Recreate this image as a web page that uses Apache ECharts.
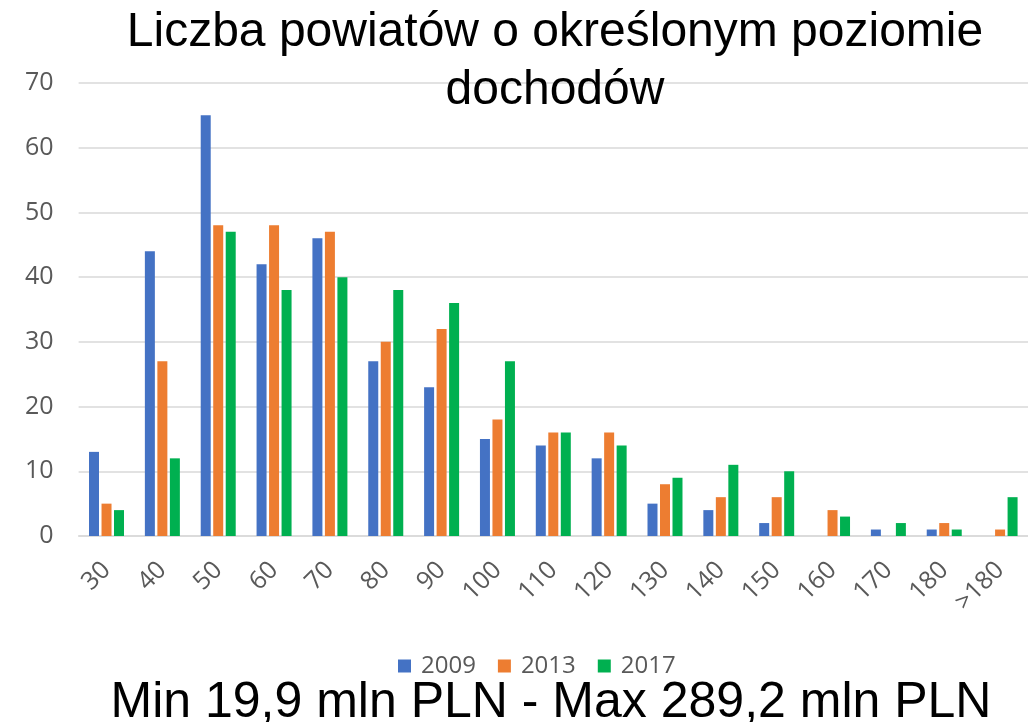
<!DOCTYPE html>
<html>
<head>
<meta charset="utf-8">
<script src="https://cdn.jsdelivr.net/npm/echarts@6/dist/echarts.min.js"></script>
<style>
  html, body { margin: 0; padding: 0; background: #fff; overflow: hidden; }
  #chart { width: 1028px; height: 722px; }
</style>
</head>
<body>
<div id="chart"></div>
<script>
// przedziały dochodów (mln PLN)
var categories = ['30', '40', '50', '60', '70', '80', '90', '100', '110', '120', '130', '140', '150', '160', '170', '180', '>180']
var years = ['2009', '2013', '2017']
var values2009 = [13, 44, 65, 42, 46, 27, 23, 15, 14, 12, 5, 4, 2, 0, 1, 1, 0]
var values2013 = [5, 27, 48, 48, 47, 30, 32, 18, 16, 16, 8, 6, 6, 4, 0, 2, 1]
var values2017 = [4, 12, 47, 38, 40, 38, 36, 27, 16, 14, 9, 11, 10, 3, 2, 1, 6]
var yTicks = [0, 10, 20, 30, 40, 50, 60, 70]

var colors = ['#4472C4', '#ED7D31', '#00B050']
var seriesValues = [values2009, values2013, values2017]
var labelFont = '"Open Sans", sans-serif'

var chart = echarts.init(document.getElementById('chart'))
chart.setOption({
  animation: false,
  color: colors,
  title: [{
    text: 'Liczba powiatów o określonym poziomie\ndochodów',
    left: 550,
    top: -1,
    textAlign: 'center',
    textStyle: {
      fontFamily: '"Liberation Sans", Arial, sans-serif',
      fontSize: 48,
      fontWeight: 'normal',
      color: '#000',
      lineHeight: 58
    }
  }, {
    text: 'Min 19,9 mln PLN - Max 289,2 mln PLN',
    left: 546,
    top: 673,
    textAlign: 'center',
    textStyle: {
      fontFamily: '"Liberation Sans", Arial, sans-serif',
      fontSize: 50,
      fontWeight: 'normal',
      color: '#000',
      lineHeight: 50
    }
  }],
  legend: {
    data: years,
    left: 393,
    top: 649,
    itemWidth: 13,
    itemHeight: 13,
    itemGap: 22,
    icon: 'rect',
    textStyle: {
      fontFamily: labelFont,
      fontSize: 24,
      color: '#595959',
      padding: [0, 0, 0, 5]
    }
  },
  grid: {
    left: 78.6,
    right: -16,
    top: 83,
    bottom: 186
  },
  xAxis: {
    type: 'category',
    data: categories,
    axisTick: { show: false },
    axisLine: { lineStyle: { color: '#d9d9d9', width: 1.5 } },
    axisLabel: {
      rotate: 45,
      interval: 0,
      margin: 30,
      fontFamily: labelFont,
      fontSize: 25,
      color: '#595959'
    }
  },
  yAxis: {
    type: 'value',
    min: yTicks[0],
    max: yTicks[yTicks.length - 1],
    interval: 10,
    axisLine: { show: false },
    axisTick: { show: false },
    axisLabel: {
      margin: 25,
      fontFamily: labelFont,
      fontSize: 25,
      color: '#595959'
    },
    splitLine: { lineStyle: { color: '#d9d9d9', width: 1.5 } }
  },
  series: years.map(function (y, i) {
    return {
      name: y,
      type: 'bar',
      data: seriesValues[i],
      barWidth: 10,
      barGap: '25%',
      itemStyle: { color: colors[i] }
    }
  })
})
</script>
</body>
</html>
